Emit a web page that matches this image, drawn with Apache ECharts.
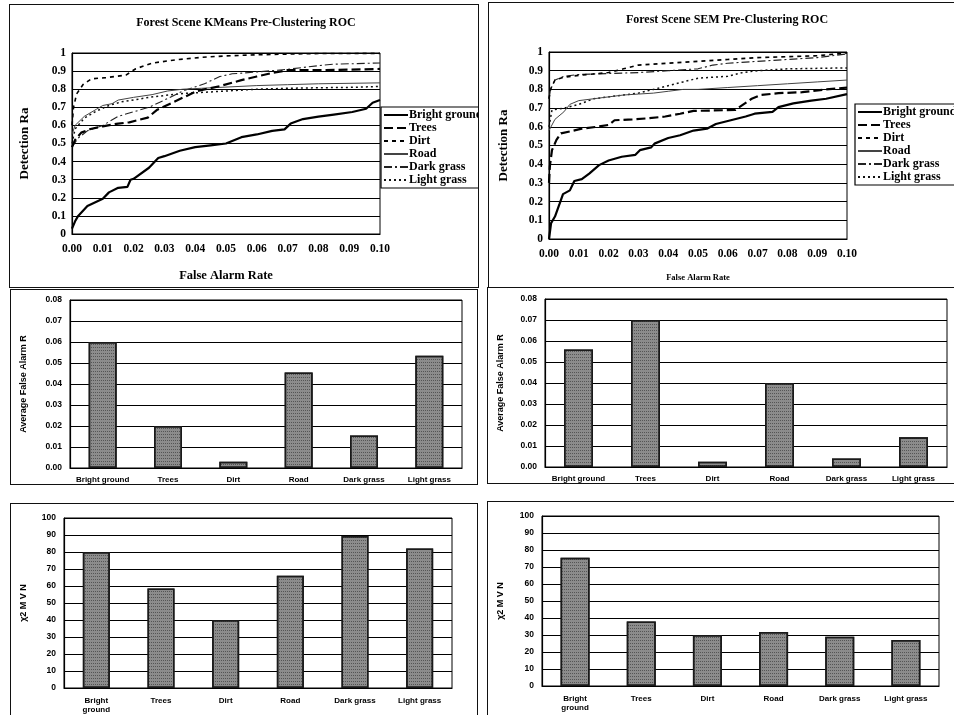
<!DOCTYPE html>
<html>
<head>
<meta charset="utf-8">
<script src="https://cdn.jsdelivr.net/npm/echarts@6/dist/echarts.min.js"></script>
<style>
html,body{margin:0;padding:0;background:#fff;width:954px;height:715px;overflow:hidden;position:relative;}
.p{position:absolute;border:1.5px solid #111;box-sizing:content-box;overflow:hidden;}
</style>
</head>
<body>
<div id="tl" class="p" style="left:9px;top:4px;width:468px;height:282px;"></div>
<div id="tr" class="p" style="left:488px;top:2px;width:470px;height:284px;"></div>
<div id="ml" class="p" style="left:10px;top:289px;width:466px;height:194px;"></div>
<div id="mr" class="p" style="left:487px;top:287px;width:470px;height:195px;"></div>
<div id="bl" class="p" style="left:10px;top:503px;width:466px;height:215px;"></div>
<div id="br" class="p" style="left:487px;top:501px;width:470px;height:217px;"></div>
<script>
// ---------- DATA ----------
const seriesNames = ['Bright ground', 'Trees', 'Dirt', 'Road', 'Dark grass', 'Light grass'];
const categories = ['Bright ground', 'Trees', 'Dirt', 'Road', 'Dark grass', 'Light grass'];
const xTicks = [0, 0.01, 0.02, 0.03, 0.04, 0.05, 0.06, 0.07, 0.08, 0.09, 0.10];

// KMeans ROC  [false alarm rate, detection rate]
const kmBright = [[0,0.03],[0.001,0.07],[0.002,0.10],[0.005,0.155],[0.01,0.195],[0.012,0.23],[0.015,0.255],[0.018,0.26],[0.019,0.30],[0.02,0.305],[0.025,0.366],[0.028,0.42],[0.03,0.43],[0.035,0.46],[0.04,0.48],[0.045,0.49],[0.05,0.50],[0.055,0.535],[0.06,0.55],[0.065,0.57],[0.069,0.578],[0.071,0.61],[0.075,0.635],[0.08,0.648],[0.085,0.66],[0.091,0.674],[0.0955,0.692],[0.0976,0.725],[0.1,0.74]];
const kmTrees = [[0,0.48],[0.001,0.52],[0.003,0.56],[0.006,0.58],[0.01,0.595],[0.015,0.61],[0.0186,0.617],[0.0246,0.643],[0.0277,0.687],[0.0331,0.73],[0.0406,0.79],[0.048,0.817],[0.055,0.85],[0.06,0.87],[0.065,0.89],[0.07,0.905],[0.08,0.905],[0.09,0.908],[0.1,0.912]];
const kmDirt = [[0,0.6],[0.0005,0.7],[0.0015,0.774],[0.0036,0.826],[0.0063,0.857],[0.011,0.864],[0.0175,0.878],[0.0207,0.913],[0.026,0.944],[0.0335,0.962],[0.042,0.976],[0.05,0.984],[0.06,0.99],[0.07,0.994],[0.08,0.997],[0.1,0.998]];
const kmRoad = [[0,0.55],[0.001,0.6],[0.004,0.65],[0.008,0.69],[0.01,0.71],[0.013,0.72],[0.015,0.74],[0.02,0.755],[0.026,0.77],[0.031,0.79],[0.036,0.80],[0.042,0.805],[0.048,0.81],[0.06,0.82],[0.07,0.825],[0.08,0.83],[0.1,0.835]];
const kmDarkGrass = [[0,0.48],[0.002,0.53],[0.005,0.57],[0.01,0.60],[0.015,0.65],[0.02,0.675],[0.025,0.70],[0.03,0.74],[0.036,0.79],[0.043,0.83],[0.048,0.87],[0.052,0.885],[0.06,0.895],[0.07,0.91],[0.08,0.93],[0.085,0.938],[0.1,0.945]];
const kmLightGrass = [[0,0.5],[0.001,0.58],[0.004,0.64],[0.008,0.68],[0.012,0.71],[0.016,0.73],[0.02,0.74],[0.025,0.755],[0.03,0.765],[0.035,0.775],[0.04,0.78],[0.045,0.785],[0.05,0.79],[0.06,0.80],[0.07,0.805],[0.08,0.808],[0.09,0.81],[0.1,0.815]];

// SEM ROC
const semBright = [[0,0],[0.0007,0.085],[0.002,0.12],[0.0036,0.19],[0.0047,0.24],[0.007,0.26],[0.0085,0.31],[0.011,0.32],[0.0135,0.35],[0.0168,0.395],[0.02,0.42],[0.0244,0.44],[0.029,0.45],[0.0305,0.475],[0.0343,0.49],[0.0354,0.51],[0.04,0.54],[0.044,0.555],[0.0485,0.58],[0.053,0.59],[0.056,0.615],[0.061,0.635],[0.066,0.655],[0.069,0.67],[0.075,0.68],[0.077,0.705],[0.082,0.725],[0.088,0.74],[0.093,0.75],[0.1,0.775]];
const semTrees = [[0,0.3],[0.0003,0.39],[0.001,0.475],[0.0025,0.53],[0.004,0.565],[0.007,0.575],[0.011,0.59],[0.016,0.60],[0.02,0.61],[0.022,0.635],[0.028,0.64],[0.033,0.645],[0.039,0.655],[0.044,0.67],[0.0485,0.685],[0.0625,0.69],[0.068,0.75],[0.071,0.77],[0.077,0.78],[0.085,0.785],[0.093,0.80],[0.1,0.81]];
const semDirt = [[0,0.75],[0.0005,0.80],[0.002,0.85],[0.005,0.865],[0.01,0.875],[0.02,0.89],[0.025,0.91],[0.03,0.93],[0.04,0.94],[0.05,0.95],[0.06,0.96],[0.07,0.97],[0.08,0.975],[0.09,0.98],[0.1,0.995]];
const semRoad = [[0,0.58],[0.002,0.64],[0.005,0.68],[0.007,0.72],[0.01,0.74],[0.015,0.75],[0.02,0.76],[0.025,0.77],[0.03,0.775],[0.035,0.78],[0.04,0.79],[0.045,0.80],[0.05,0.80],[0.06,0.81],[0.07,0.82],[0.08,0.83],[0.09,0.84],[0.1,0.85]];
const semDarkGrass = [[0,0.75],[0.0005,0.80],[0.002,0.85],[0.005,0.87],[0.01,0.88],[0.02,0.885],[0.03,0.89],[0.04,0.90],[0.05,0.91],[0.055,0.93],[0.06,0.94],[0.07,0.95],[0.08,0.96],[0.09,0.97],[0.1,0.99]];
const semLightGrass = [[0,0.6],[0.001,0.69],[0.005,0.70],[0.01,0.72],[0.015,0.75],[0.02,0.76],[0.025,0.77],[0.03,0.78],[0.035,0.80],[0.04,0.82],[0.045,0.84],[0.05,0.86],[0.06,0.87],[0.065,0.89],[0.07,0.90],[0.08,0.91],[0.1,0.915]];

// Bar charts
const kmAvgFalseAlarm = [0.060, 0.020, 0.003, 0.0455, 0.0155, 0.0535];
const semAvgFalseAlarm = [0.056, 0.070, 0.0025, 0.040, 0.004, 0.0142];
const kmChi2 = [80, 58.6, 40, 66, 89.4, 82];
const semChi2 = [75.5, 38, 30, 31.8, 29, 27];

// ---------- STYLES ----------
const lineStyles = [
  {type:'solid', width:2.2, color:'#000'},
  {type:[9,4], width:2.2, color:'#000'},
  {type:[4,4], width:1.6, color:'#000'},
  {type:'solid', width:1, color:'#444'},
  {type:[8,3,2,3], width:1.1, color:'#222'},
  {type:[2,3], width:1.5, color:'#111'}
];
const serif = '"Liberation Serif", "Times New Roman", serif';
const sans = '"Liberation Sans", Arial, sans-serif';

function rocOption(c, sets) {
  return {
    animation: false,
    graphic: [{type:'text', x:c.titleX, y:c.titleY, style:{text:c.title, font:'bold 12px ' + serif, fill:'#000', textAlign:'center', textVerticalAlign:'middle'}}],
    legend: {
      orient:'vertical', left:c.legLeft, top:c.legTop, itemWidth:24, itemHeight:12, itemGap:1,
      borderColor:'#000', borderWidth:1.2, padding:[2,30,2,2], selectedMode:false,
      itemStyle:{opacity:0}, lineStyle:{opacity:1},
      textStyle:{fontFamily:serif, fontWeight:'bold', fontSize:12, color:'#000', padding:[0,0,0,-4]},
      data: seriesNames
    },
    grid: {left:c.gl, top:c.gt, width:c.gw, height:c.gh, show:true, borderColor:'#000', borderWidth:1},
    xAxis: {
      type:'value', min:0, max:0.1, interval:0.01,
      name:'False Alarm Rate', nameLocation:'middle', nameGap:c.xNameGap,
      nameTextStyle:{fontFamily:serif, fontWeight:'bold', fontSize:c.xNameSize, color:'#000'},
      axisLabel:{formatter:v => v.toFixed(2), fontFamily:serif, fontWeight:'bold', fontSize:11.5, color:'#000', margin:9},
      axisLine:{lineStyle:{color:'#000', width:1.2}}, axisTick:{show:false}, splitLine:{show:false}
    },
    yAxis: {
      type:'value', min:0, max:1, interval:0.1,
      name:'Detection Ra', nameLocation:'middle', nameGap:c.yNameGap, nameRotate:90,
      nameTextStyle:{fontFamily:serif, fontWeight:'bold', fontSize:13, color:'#000'},
      axisLabel:{fontFamily:serif, fontWeight:'bold', fontSize:11.5, color:'#000', margin:6},
      axisLine:{show:true, lineStyle:{color:'#000', width:1.2}}, axisTick:{show:false},
      splitLine:{lineStyle:{color:'#000', width:1.1}}
    },
    series: sets.map((d, i) => ({
      name: seriesNames[i], type:'line', data:d, symbol:'none', showSymbol:false,
      lineStyle: lineStyles[i], itemStyle:{color:lineStyles[i].color}, z: 10 - i
    }))
  };
}

function barOption(c, values) {
  return {
    animation: false,
    grid: {left:c.gl, top:c.gt, width:c.gw, height:c.gh, show:true, borderColor:'#000', borderWidth:1},
    xAxis: {
      type:'category', data:categories,
      axisLabel:{interval:0, fontFamily:sans, fontWeight:'bold', fontSize:8, color:'#000', margin:c.labMargin, lineHeight:9,
        formatter: v => (c.wrap && v === 'Bright ground') ? 'Bright\nground' : v},
      axisLine:{lineStyle:{color:'#000', width:1.2}}, axisTick:{show:false}
    },
    yAxis: {
      type:'value', min:0, max:c.max, interval:c.step,
      name:c.yName, nameLocation:'middle', nameGap:c.yNameGap,
      nameTextStyle:{fontFamily:sans, fontWeight:'bold', fontSize:9, color:'#000'},
      axisLabel:{formatter:v => c.dec ? v.toFixed(c.dec) : String(Math.round(v)), fontFamily:sans, fontWeight:'bold', fontSize:8.5, color:'#000', margin:8},
      axisLine:{show:true, lineStyle:{color:'#000', width:1.2}}, axisTick:{show:false},
      splitLine:{lineStyle:{color:'#000', width:1.1}}
    },
    series: [{
      type:'bar', data:values, barWidth:c.bw,
      itemStyle:{color:'#8c8c8c', borderColor:'#1a1a1a', borderWidth:1.5,
        decal:{symbol:'rect', symbolSize:1, dashArrayX:[1,1], dashArrayY:[1,2], color:'rgba(30,30,30,0.5)', rotation:0}}
    }]
  };
}

const mk = id => echarts.init(document.getElementById(id), null, {renderer:'canvas'});

mk('tl').setOption(rocOption({
  title:'Forest Scene KMeans Pre-Clustering ROC', titleX:236, titleY:18,
  legLeft:371, legTop:102, gl:58, gt:48, gw:312, gh:190, xNameGap:35, xNameSize:12.5, yNameGap:41
}, [kmBright, kmTrees, kmDirt, kmRoad, kmDarkGrass, kmLightGrass]));

mk('tr').setOption(rocOption({
  title:'Forest Scene SEM Pre-Clustering ROC', titleX:238, titleY:17,
  legLeft:366, legTop:101, gl:54, gt:49, gw:304, gh:187, xNameGap:34, xNameSize:8.5, yNameGap:39
}, [semBright, semTrees, semDirt, semRoad, semDarkGrass, semLightGrass]));

mk('ml').setOption(barOption({gl:49, gt:10, gw:402, gh:181, max:0.08, step:0.01, dec:2, yName:'Average False Alarm R', yNameGap:42, bw:28, labMargin:7}, kmAvgFalseAlarm));
mk('mr').setOption(barOption({gl:52, gt:11, gw:407, gh:179, max:0.08, step:0.01, dec:2, yName:'Average False Alarm R', yNameGap:40, bw:29, labMargin:7}, semAvgFalseAlarm));
mk('bl').setOption(barOption({gl:44, gt:14, gw:397, gh:170, max:100, step:10, dec:0, yName:'χ2 M V N', yNameGap:36, bw:27, labMargin:8, wrap:true}, kmChi2));
mk('br').setOption(barOption({gl:50, gt:14, gw:401, gh:170, max:100, step:10, dec:0, yName:'χ2 M V N', yNameGap:37, bw:29, labMargin:8, wrap:true}, semChi2));
</script>
</body>
</html>
